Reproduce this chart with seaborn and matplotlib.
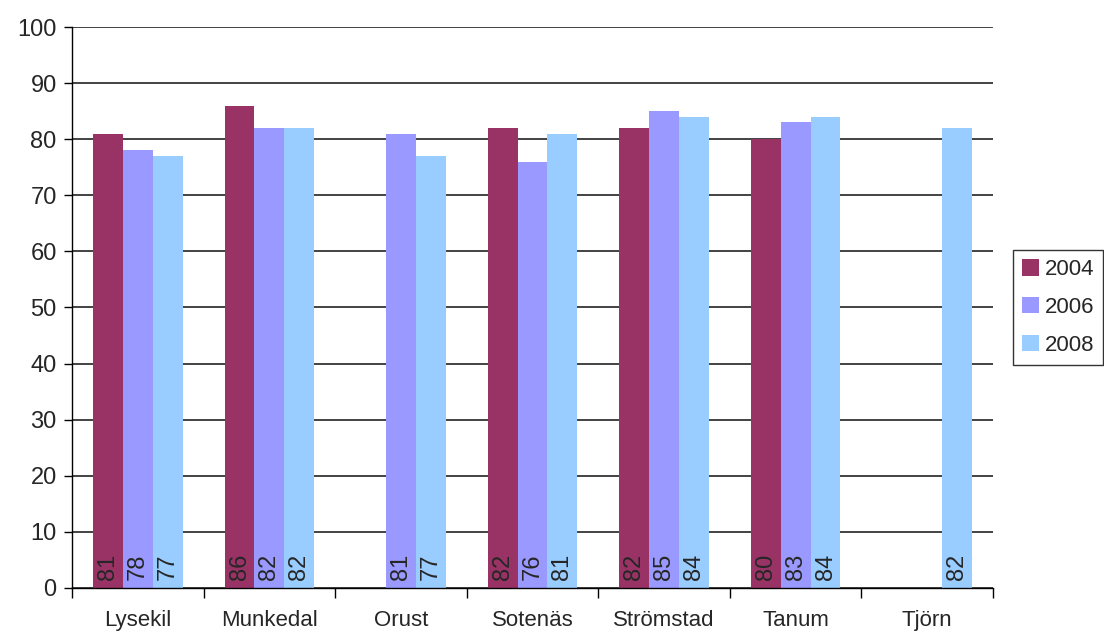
import numpy as np
import pandas as pd
import matplotlib
matplotlib.use("Agg")
import matplotlib.pyplot as plt
import seaborn as sns
from matplotlib.ticker import MultipleLocator, FixedLocator

# --- data ---
kommuner = ["Lysekil", "Munkedal", "Orust", "Sotenäs", "Strömstad", "Tanum", "Tjörn"]
years = ["2004", "2006", "2008"]
v2004 = [81, 86, np.nan, 82, 82, 80, np.nan]
v2006 = [78, 82, 81, 76, 85, 83, np.nan]
v2008 = [77, 82, 77, 81, 84, 84, 82]
colors = ["#993366", "#9999FF", "#99CCFF"]

df = pd.DataFrame({
    "kommun": kommuner * 3,
    "year": [y for y in years for _ in kommuner],
    "value": v2004 + v2006 + v2008,
}).dropna()

sns.set_style("white")
plt.rcParams["font.family"] = ["Liberation Sans", "DejaVu Sans"]

fig = plt.figure(figsize=(11.04, 6.34), dpi=100)
ax = fig.add_axes([0.0652, 0.0726, 0.8343, 0.8848])

sns.barplot(data=df, x="kommun", y="value", hue="year", order=kommuner,
            hue_order=years, palette=colors, width=0.68, gap=0,
            saturation=1, errorbar=None, linewidth=0, ax=ax, zorder=2)

# value labels, rotated, sitting at the bottom of each bar
for p in ax.patches:
    h = p.get_height()
    if np.isnan(h) or h == 0:
        continue
    ax.text(p.get_x() + p.get_width() / 2, 1.4, f"{h:.0f}", rotation=90,
            ha="center", va="bottom", fontsize=17, zorder=3)

ax.set_ylim(0, 100)
ax.set_xlim(-0.5, len(kommuner) - 0.5)
ax.yaxis.set_major_locator(MultipleLocator(10))
ax.yaxis.grid(True, color="#222222", linewidth=1.2)
ax.set_axisbelow(True)

ax.xaxis.set_minor_locator(FixedLocator(np.arange(-0.5, len(kommuner), 1)))
ax.tick_params(axis="x", which="major", length=0, pad=16, labelsize=16)
ax.tick_params(axis="x", which="minor", length=7, width=1, color="black", direction="out")
ax.tick_params(axis="y", length=6, width=1, color="black", direction="out", labelsize=17, pad=5)
ax.xaxis.set_ticks_position("bottom")
ax.yaxis.set_ticks_position("left")

for side in ["top", "right"]:
    ax.spines[side].set_visible(False)
for side in ["left", "bottom"]:
    ax.spines[side].set_color("black")
    ax.spines[side].set_linewidth(1)

ax.set_xlabel("")
ax.set_ylabel("")

leg = ax.legend(title=None, loc="center left", bbox_to_anchor=(1.022, 0.5),
                frameon=True, fancybox=False, fontsize=16, handlelength=0.75,
                handleheight=0.75, handletextpad=0.25, labelspacing=0.75,
                borderpad=0.4, borderaxespad=0)
leg.get_frame().set_edgecolor("black")
leg.get_frame().set_linewidth(1)

fig.savefig("out.png", dpi=100)
